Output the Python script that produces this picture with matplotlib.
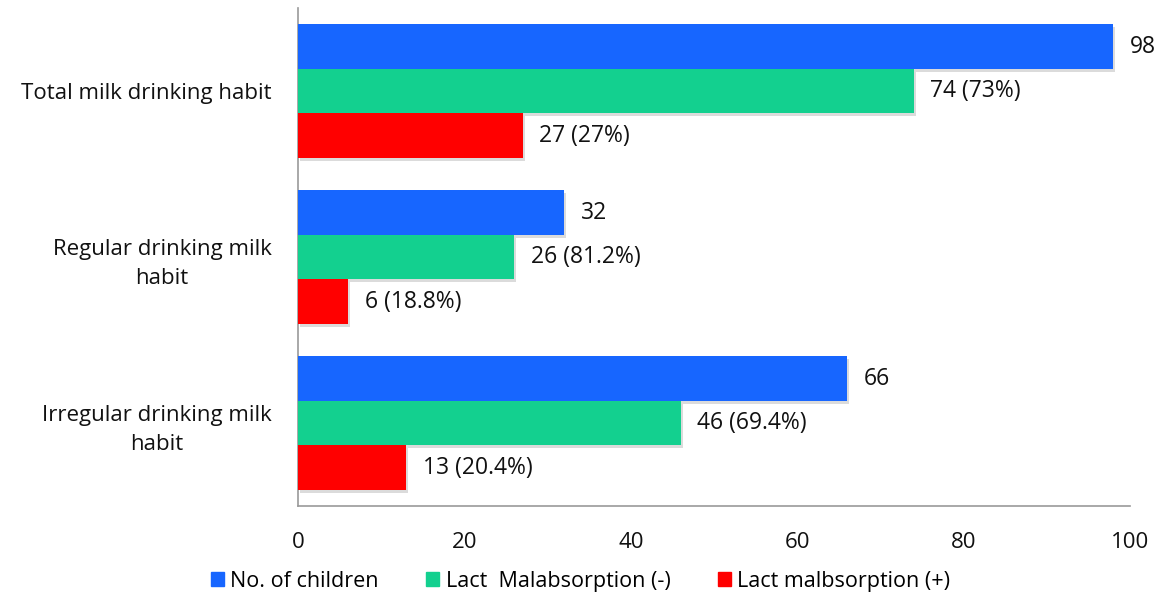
import matplotlib.pyplot as plt
import matplotlib.patches as mpatches
import matplotlib.patheffects as pe
import numpy as np

plt.rcParams['font.family'] = ['Open Sans', 'DejaVu Sans']

categories = ['Total milk drinking habit', 'Regular drinking milk\nhabit',
              'Irregular drinking milk\nhabit']
series_names = ['No. of children', 'Lact  Malabsorption (-)', 'Lact malbsorption (+)']
children = [98, 32, 66]
malabs_neg = [74, 26, 46]
malabs_pos = [27, 6, 13]
neg_labels = ['74 (73%)', '26 (81.2%)', '46 (69.4%)']
pos_labels = ['27 (27%)', '6 (18.8%)', '13 (20.4%)']
colors = ['#1766FF', '#13D08F', '#FF0000']

fig = plt.figure(figsize=(11.61, 5.98), dpi=100)
ax = fig.add_axes([0.2567, 0.1538, 0.7166, 0.8328])

y = np.arange(len(categories))
h = 0.268
shadow = [pe.SimplePatchShadow(offset=(1.5, -2), shadow_rgbFace='#b0b0b0', alpha=0.45), pe.Normal()]

values = [children, malabs_neg, malabs_pos]
texts = [[str(v) for v in children], neg_labels, pos_labels]
for i, (vals, labs) in enumerate(zip(values, texts)):
    bars = ax.barh(y + (i - 1) * h, vals, height=h, color=colors[i], zorder=3)
    for b in bars:
        b.set_path_effects(shadow)
    for yy, v, t in zip(y + (i - 1) * h, vals, labs):
        ax.text(v + 2.0, yy, t, va='center', ha='left', fontsize=16.5, color='#111111')

ax.set_ylim(2.5, -0.5)
ax.set_xlim(0, 100)
ax.set_xticks([0, 20, 40, 60, 80, 100])
ax.set_yticks(y)
ax.set_yticklabels(categories, multialignment='center', linespacing=1.55)
ax.tick_params(axis='both', length=0, labelsize=16, colors='#111111')
ax.tick_params(axis='y', pad=19)
ax.tick_params(axis='x', pad=19)
for s in ['top', 'right']:
    ax.spines[s].set_visible(False)
for s in ['left', 'bottom']:
    ax.spines[s].set_color('#999999')
    ax.spines[s].set_linewidth(1.2)

handles = [mpatches.Patch(color=c) for c in colors]
fig.legend(handles, series_names, loc='lower center', bbox_to_anchor=(0.5, -0.022), ncol=3,
           frameon=False, fontsize=15.5, handlelength=0.6, handleheight=0.6,
           handletextpad=0.3, columnspacing=2.2)

fig.savefig('out.png', dpi=100)
